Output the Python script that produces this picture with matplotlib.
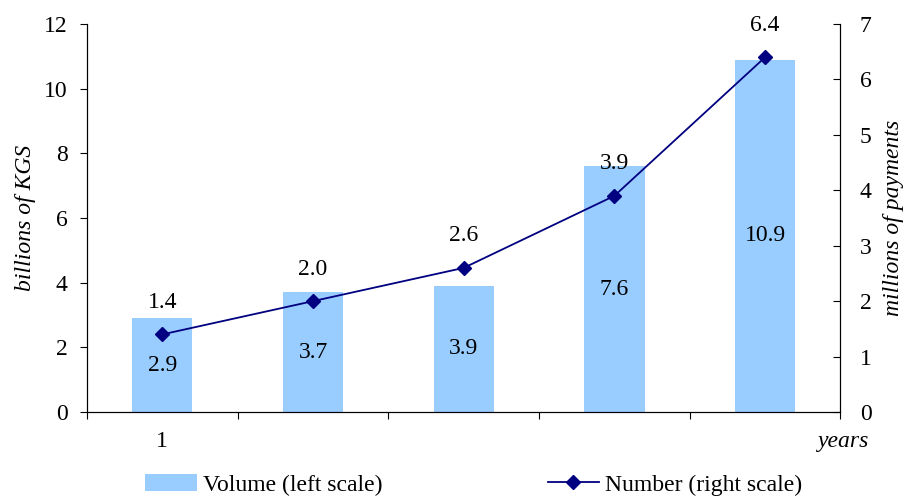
import matplotlib
matplotlib.use("Agg")
import matplotlib.pyplot as plt
import numpy as np

# Payment volume and number by year
year_labels = ["1", "", "", "", ""]
volume = [2.9, 3.7, 3.9, 7.6, 10.9]      # billions of KGS (left scale)
number = [1.4, 2.0, 2.6, 3.9, 6.4]       # millions of payments (right scale)

plt.rcParams["font.family"] = ["Liberation Serif", "DejaVu Serif"]
FS = 17

fig = plt.figure(figsize=(9.04, 4.98), dpi=100)
ax = fig.add_axes([0.0962, 0.1727, 0.8335, 0.7791])
ax2 = ax.twinx()

x = np.arange(len(volume))
bars = ax.bar(x, volume, width=0.4, color="#99CCFF", zorder=2,
              label="Volume (left scale)")
line, = ax2.plot(x, number, color="#000080", lw=1.3, marker="D", ms=7.5,
                 label="Number (right scale)", zorder=3)

# value labels: volume centred inside bars, number above the points
for xi, v in zip(x, volume):
    ax.text(xi, v / 2, f"{v:.1f}", ha="center", va="center", fontsize=FS)
for xi, n in zip(x, number):
    ax2.annotate(f"{n:.1f}", (xi, n), xytext=(0, 23), textcoords="offset points",
                 ha="center", va="center", fontsize=FS)

ax.set_xlim(-0.5, len(volume) - 0.5)
ax.set_ylim(0, 12)
ax2.set_ylim(0, 7)
ax.set_yticks(np.arange(0, 13, 2))
ax2.set_yticks(np.arange(0, 8, 1))

# major ticks at category boundaries, labels at category centres
ax.set_xticks(np.arange(-0.5, len(volume), 1.0))
ax.set_xticklabels([])
ax.set_xticks(x, minor=True)
ax.set_xticklabels(year_labels, minor=True)
ax.tick_params(axis="x", which="major", direction="out", length=5, width=0.8)
ax.tick_params(axis="x", which="minor", length=0, pad=13.5, labelsize=FS)
ax.tick_params(axis="y", direction="out", length=5, width=0.8, labelsize=FS, pad=9)
ax2.tick_params(axis="y", direction="in", length=5, width=0.8, labelsize=FS, pad=14)

for a in (ax, ax2):
    a.spines["top"].set_visible(False)
    for s in ("left", "right", "bottom"):
        a.spines[s].set_linewidth(0.8)

ax.set_ylabel("billions of KGS", fontsize=FS, style="italic", labelpad=6)
ax2.set_ylabel("millions of payments", fontsize=FS, style="italic", labelpad=8)
ax.text(1.004, -0.075, "years", transform=ax.transAxes, ha="center", va="center",
        fontsize=FS, style="italic")

fig.legend([bars, line], ["Volume (left scale)", "Number (right scale)"],
           loc="lower center", bbox_to_anchor=(0.524, -0.038), ncol=2,
           frameon=False, fontsize=FS, handlelength=2.2, handletextpad=0.25,
           columnspacing=7.0)

fig.savefig("out.png", dpi=100)
